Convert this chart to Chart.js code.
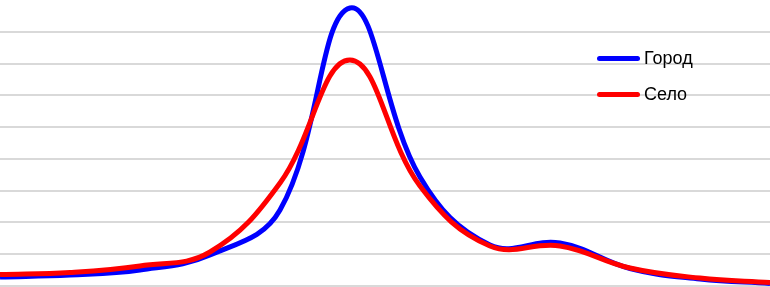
<!DOCTYPE html>
<html>
<head>
<meta charset="utf-8">
<script src="https://cdn.jsdelivr.net/npm/chart.js@4"></script>
<style>
  body { margin: 0; background: #ffffff; }
  #wrap { position: relative; width: 770px; height: 287px; }
  #legend { position: absolute; left: 597px; top: 40px; font-family: "Liberation Sans", Arial, sans-serif; font-size: 18px; color: #000; }
  .item { display: flex; align-items: center; height: 36px; }
  .swatch { width: 43px; height: 5px; border-radius: 3px; margin-right: 4px; }
</style>
</head>
<body>
<div id="wrap">
  <canvas id="chart" width="770" height="287"></canvas>
  <div id="legend"></div>
</div>
<script>
'use strict'

// one reading per category, evenly spaced across the plot
const categories = [0, 1, 2, 3, 4, 5, 6, 7, 8, 9, 10, 11];
const cityValues = [0.57, 0.69, 1.01, 1.95, 4.78, 17.5, 6.86, 2.58, 2.71, 1.10, 0.44, 0.16];
const villageValues = [0.72, 0.85, 1.26, 2.14, 6.48, 14.22, 6.29, 2.52, 2.52, 1.13, 0.50, 0.22];
const seriesNames = ['Город', 'Село'];
const seriesColors = ['#0000ff', '#ff0000'];
const yMax = 18;
const yTicks = [0, 2, 4, 6, 8, 10, 12, 14, 16];

const canvas = document.getElementById('chart');
const legend = document.getElementById('legend');

init();

function init(){
    new Chart(canvas, generateConfig());
    renderLegend();
}

function toPoints(values){
    let points = [];
    for (let i = 0; i < values.length; i++){
        points.push({x: categories[i], y: values[i]});
    }
    return points;
}

function renderLegend(){
    for (let i = 0; i < seriesNames.length; i++){
        let item = document.createElement('div');
        item.className = 'item';
        let swatch = document.createElement('span');
        swatch.className = 'swatch';
        swatch.style.background = seriesColors[i];
        let label = document.createElement('span');
        label.textContent = seriesNames[i];
        item.appendChild(swatch);
        item.appendChild(label);
        legend.appendChild(item);
    }
}

function generateConfig(){
    const data = {
        datasets: [{
            label: seriesNames[0],
            data: toPoints(cityValues),
            borderColor: seriesColors[0],
            borderWidth: 5,
            tension: 0.4,
            pointRadius: 0,
            fill: false,
            order: 1
        },
        {
            label: seriesNames[1],
            data: toPoints(villageValues),
            borderColor: seriesColors[1],
            borderWidth: 5,
            tension: 0.4,
            pointRadius: 0,
            fill: false,
            order: 0
        }]
    };

    const config = {
        type: 'line',
        data: data,
        options: {
            responsive: false,
            animation: false,
            layout: {
                padding: {top: 0, bottom: 1, left: 0, right: 0}
            },
            plugins: {
                legend: {display: false},
                tooltip: {enabled: false}
            },
            scales: {
                x: {
                    type: 'linear',
                    min: categories[0],
                    max: categories[categories.length - 1],
                    display: false
                },
                y: {
                    min: 0,
                    max: yMax,
                    afterBuildTicks: function(axis){
                        axis.ticks = yTicks.map(v => ({value: v}));
                    },
                    ticks: {display: false},
                    border: {display: false},
                    grid: {
                        color: '#d9d9d9',
                        lineWidth: 2,
                        drawTicks: false
                    }
                }
            }
        }
    };

    return config;
}
</script>
</body>
</html>
